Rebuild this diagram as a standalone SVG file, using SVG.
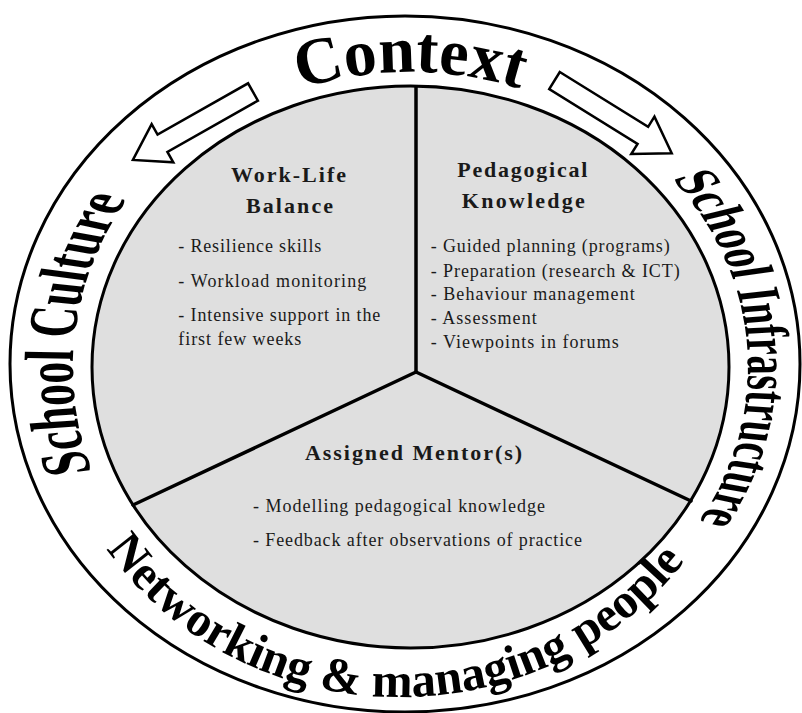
<svg xmlns="http://www.w3.org/2000/svg" width="802" height="713" viewBox="0 0 802 713">
<style>
.ring{fill:#fff;stroke:#000;stroke-width:3}
.core{fill:#dfdfdf;stroke:#000;stroke-width:3}
.div{stroke:#000;stroke-width:3.5;stroke-linecap:round;fill:none}
.arrow{fill:#fff;stroke:#000;stroke-width:2.5;stroke-linejoin:miter}
.big{font-family:"Liberation Serif","Times New Roman",serif;font-weight:bold;fill:#000}
.h{font-family:"Liberation Serif","Times New Roman",serif;font-weight:bold;font-size:22px;fill:#1a1a1a}
.b{font-family:"Liberation Serif","Times New Roman",serif;font-size:18px;fill:#1a1a1a}
</style>
<defs>
<path id="p-context" d="M 99.9 266.1 A 330 295 0 0 1 720.1 266.1"/>
<path id="p-infra" d="M 571.8 175.4 A 211.25 298 0 0 1 589.1 524.9"/>
<path id="p-culture" d="M 211.6 473 A 209.4 310 0 0 1 233.6 198.2"/>
<path id="p-network" d="M 89.2 521.9 A 352 330 0 0 0 710.8 521.9"/>
<polygon id="arrow-shape" points="0,-10 104,-10 104,-22 138,0 104,22 104,10 0,10"/>
</defs>
<rect width="802" height="713" fill="#fff"/>

<g id="context-ring">
<ellipse class="ring" cx="405" cy="364" rx="395" ry="348"/>
<text class="big" font-size="66"><textPath href="#p-context" startOffset="50%" text-anchor="middle">Context</textPath></text>
<g transform="translate(410 0) scale(1.6 1) translate(-410 0)">
<text class="big" font-size="38.5"><textPath href="#p-infra" startOffset="50%" text-anchor="middle">School Infrastructure</textPath></text>
</g>
<g transform="translate(410 0) scale(1.6 1) translate(-410 0)">
<text class="big" font-size="43.5"><textPath href="#p-culture" startOffset="50%" text-anchor="middle">School Culture</textPath></text>
</g>
<text class="big" font-size="49"><textPath href="#p-network" startOffset="49%" text-anchor="middle">Networking &amp; managing people</textPath></text>
</g>

<g id="core">
<ellipse class="core" cx="410.5" cy="367" rx="318.5" ry="281"/>
</g>

<g id="connectors">
<line class="div" x1="416" y1="87" x2="416" y2="372"/>
<line class="div" x1="416" y1="372" x2="133" y2="505"/>
<line class="div" x1="416" y1="372" x2="691" y2="501"/>
<use href="#arrow-shape" class="arrow" transform="translate(253 92) rotate(150.5)"/>
<use href="#arrow-shape" class="arrow" transform="translate(554.5 80.5) rotate(31.85)"/>
</g>

<g id="node-worklife">
<text class="h" x="288.5" y="181.7" text-anchor="middle" textLength="115">Work-Life</text>
<text class="h" x="289.5" y="213.3" text-anchor="middle" textLength="87">Balance</text>
<text class="b" x="178.3" y="251.7" textLength="143">- Resilience skills</text>
<text class="b" x="178.3" y="286.7" textLength="188">- Workload monitoring</text>
<text class="b" x="178.3" y="321" textLength="202">- Intensive support in the</text>
<text class="b" x="178.3" y="345" textLength="123">first few weeks</text>
</g>

<g id="node-pedagogical">
<text class="h" x="522.3" y="176.7" text-anchor="middle" textLength="130">Pedagogical</text>
<text class="h" x="523.3" y="208.3" text-anchor="middle" textLength="123">Knowledge</text>
<text class="b" x="430.7" y="252" textLength="239">- Guided planning (programs)</text>
<text class="b" x="430.7" y="277" textLength="249">- Preparation (research &amp; ICT)</text>
<text class="b" x="430.7" y="300" textLength="204">- Behaviour management</text>
<text class="b" x="430.7" y="324" textLength="106">- Assessment</text>
<text class="b" x="430.7" y="348" textLength="188">- Viewpoints in forums</text>
</g>

<g id="node-mentor">
<text class="h" x="413.5" y="460" text-anchor="middle" textLength="217">Assigned Mentor(s)</text>
<text class="b" x="253" y="512" textLength="292">- Modelling pedagogical knowledge</text>
<text class="b" x="253" y="546" textLength="329">- Feedback after observations of practice</text>
</g>
</svg>
